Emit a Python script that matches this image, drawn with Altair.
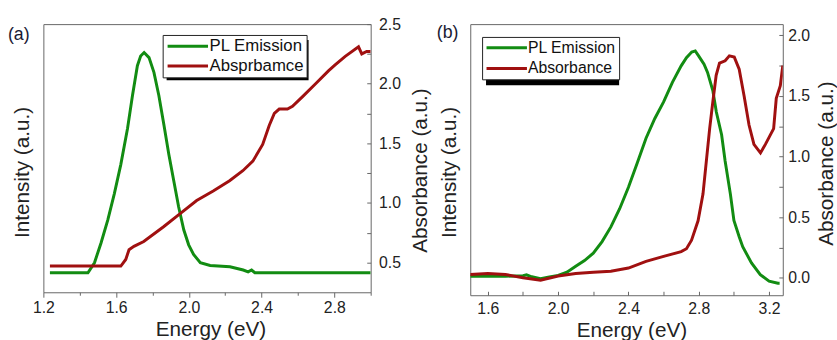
import altair as alt
import pandas as pd

FONT = "Liberation Sans"
GREEN = "#128c12"
RED = "#a01010"
TXT = "#222222"
FRAME = "#666666"

# ---------------- Panel (a) data ----------------
a_pl_E = [1.236, 1.445, 1.481, 1.517, 1.554, 1.590, 1.626, 1.663, 1.690, 1.717, 1.735, 1.754,
          1.781, 1.808, 1.835, 1.863, 1.890, 1.917, 1.944, 1.972, 1.999, 2.026, 2.063, 2.117,
          2.226, 2.299, 2.326, 2.345, 2.363, 3.0]
a_pl_I = [0.073, 0.073, 0.11, 0.184, 0.269, 0.367, 0.477, 0.612, 0.734, 0.845, 0.881, 0.894,
          0.875, 0.82, 0.734, 0.624, 0.514, 0.416, 0.318, 0.233, 0.177, 0.141, 0.11, 0.10,
          0.095, 0.083, 0.076, 0.083, 0.073, 0.073]
a_abs_E = [1.236, 1.626, 1.653, 1.671, 1.698, 1.752, 1.861, 1.952, 2.043, 2.134, 2.224, 2.297,
           2.352, 2.406, 2.442, 2.470, 2.497, 2.542, 2.570, 2.624, 2.697, 2.769, 2.806, 2.860,
           2.933, 2.951, 2.978, 3.0]
a_abs_A = [0.47, 0.47, 0.525, 0.607, 0.635, 0.676, 0.80, 0.91, 1.02, 1.10, 1.186, 1.27,
           1.35, 1.49, 1.65, 1.75, 1.787, 1.787, 1.81, 1.89, 2.0, 2.11, 2.16, 2.23,
           2.31, 2.25, 2.27, 2.27]
a_names = ["PL Emission", "Absprbamce"]
a_xticks = [1.2, 1.4, 1.6, 1.8, 2.0, 2.2, 2.4, 2.6, 2.8, 3.0]
a_yticks = [0.5, 0.75, 1.0, 1.25, 1.5, 1.75, 2.0, 2.25, 2.5]

# ---------------- Panel (b) data ----------------
b_pl_E = [1.5, 1.6, 1.7, 1.8, 1.82, 1.85, 1.9, 1.95, 2.0, 2.05, 2.1, 2.15, 2.2, 2.25, 2.3, 2.35,
          2.4, 2.45, 2.5, 2.55, 2.6, 2.65, 2.7, 2.73, 2.76, 2.78, 2.8, 2.83, 2.85, 2.88, 2.9,
          2.93, 2.95, 2.98, 3.0, 3.03, 3.05, 3.1, 3.15, 3.2, 3.25, 3.26]
b_pl_I = [0.070, 0.070, 0.070, 0.072, 0.075, 0.068, 0.061, 0.067, 0.073, 0.085, 0.107, 0.128,
          0.155, 0.198, 0.252, 0.319, 0.398, 0.488, 0.579, 0.652, 0.713, 0.785, 0.846, 0.876,
          0.897, 0.901, 0.882, 0.852, 0.822, 0.755, 0.676, 0.592, 0.495, 0.373, 0.276, 0.216,
          0.179, 0.119, 0.076, 0.052, 0.044, 0.044]
b_abs_E = [1.5, 1.6, 1.7, 1.8, 1.9, 2.0, 2.1, 2.2, 2.3, 2.4, 2.5, 2.6, 2.7, 2.73, 2.759, 2.796,
           2.824, 2.843, 2.862, 2.880, 2.899, 2.918, 2.95, 2.974, 3.002, 3.03, 3.058, 3.086,
           3.114, 3.151, 3.179, 3.226, 3.241, 3.264, 3.278]
b_abs_A = [0.027, 0.035, 0.027, 0.0, -0.02, 0.014, 0.035, 0.046, 0.054, 0.08, 0.135, 0.176,
           0.216, 0.24, 0.31, 0.47, 0.69, 0.96, 1.23, 1.45, 1.67, 1.77, 1.79, 1.83, 1.82, 1.72,
           1.50, 1.26, 1.10, 1.03, 1.10, 1.23, 1.48, 1.585, 1.75]
b_names = ["PL Emission", "Absorbance"]
b_xticks = [1.6, 1.8, 2.0, 2.2, 2.4, 2.6, 2.8, 3.0, 3.2]
b_yticks = [0.0, 0.25, 0.5, 0.75, 1.0, 1.25, 1.5, 1.75, 2.0]

MAJOR_X = "round(datum.value*10) % 4 == 0"
MAJOR_Y = "round(datum.value*100) % 50 == 0"


def panel(tag, pl_E, pl_I, abs_E, abs_A, names, xdom, xticks, ydom, yticks, w, h,
          x_inward, leg, shadow, tag_pos, lab_size, row_pad, sym_off, lab_off,
          ytitle_left, ytitle_right, xtitle_x, r_labpad, r_titlepad):
    pl_df = pd.DataFrame({"E": pl_E, "I": pl_I, "series": names[0]})
    ab_df = pd.DataFrame({"E": abs_E, "A": abs_A, "series": names[1]})

    if x_inward:
        xaxis = alt.Axis(values=xticks, labelExpr=f"{MAJOR_X} ? format(datum.value, '.1f') : ''",
                         tickSize=4, offset=-4, domain=False, grid=False, tickColor=FRAME,
                         labelFlush=False, labelPadding=6, title="Energy (eV)", titlePadding=3,
                         titleX=xtitle_x)
    else:
        xaxis = alt.Axis(values=xticks, labelExpr=f"{MAJOR_X} ? format(datum.value, '.1f') : ''",
                         tickSize={"condition": {"test": MAJOR_X, "value": 5}, "value": 3},
                         domain=False, grid=False, tickColor=FRAME, labelFlush=False,
                         labelPadding=3, title="Energy (eV)", titlePadding=3, titleX=xtitle_x)

    xenc = alt.X("E:Q", scale=alt.Scale(domain=xdom, nice=False, zero=False), axis=xaxis)
    color = alt.Color("series:N", scale=alt.Scale(domain=names, range=[GREEN, RED]),
                      legend=alt.Legend(title=None, orient="none", legendX=leg[0], legendY=leg[1],
                                        strokeColor="#222222", fillColor="white", padding=3,
                                        rowPadding=row_pad, symbolType="M-6.6,0H1.6", symbolSize=100,
                                        symbolStrokeWidth=3, symbolOffset=sym_off, labelOffset=lab_off,
                                        labelFontSize=lab_size, labelFont=FONT, labelColor="#111111"))

    pl = alt.Chart(pl_df).mark_line(strokeWidth=3, clip=True).encode(
        x=xenc,
        y=alt.Y("I:Q", scale=alt.Scale(domain=[0, 1], nice=False, zero=False),
                axis=alt.Axis(title="Intensity (a.u.)", labels=False, ticks=False, domain=False,
                              grid=False, titlePadding=11, titleY=ytitle_left)),
        color=color,
    )
    ab = alt.Chart(ab_df).mark_line(strokeWidth=3, clip=True).encode(
        x=xenc,
        y=alt.Y("A:Q", scale=alt.Scale(domain=ydom, nice=False, zero=False),
                axis=alt.Axis(orient="right", values=yticks,
                              labelExpr=f"{MAJOR_Y} ? format(datum.value, '.1f') : ''",
                              tickSize=4, offset=-4, domain=False, grid=False, tickColor=FRAME,
                              labelFlush=False, labelPadding=r_labpad, title="Absorbance (a.u.)",
                              titleAngle=270, titleBaseline="top", titlePadding=r_titlepad,
                              titleY=ytitle_right)),
        color=color,
    )
    one = pd.DataFrame({"k": [0]})
    sh = alt.Chart(one).mark_rect(color="black").encode(
        x=alt.value(shadow[0]), x2=alt.value(shadow[1]),
        y=alt.value(shadow[2]), y2=alt.value(shadow[3]))
    txt = alt.Chart(one).mark_text(text=tag, fontSize=18, font=FONT, color="#1a1a33",
                                   align="center", baseline="middle").encode(
        x=alt.value(tag_pos[0]), y=alt.value(tag_pos[1]))

    return alt.layer(pl, ab, sh, txt).resolve_scale(y="independent").properties(width=w, height=h)


pa = panel("(a)", a_pl_E, a_pl_I, a_abs_E, a_abs_A, a_names, [1.2, 3.0], a_xticks, [0.25, 2.5],
           a_yticks, 332, 272, False, (121, 11), (125, 269, 16, 57), (-25, 11), 17, 2, 26.5, 1,
           150, 148, 169.5, 8, 9)
pb = panel("(b)", b_pl_E, b_pl_I, b_abs_E, b_abs_A, b_names, [1.5, 3.278], b_xticks, [-0.144, 2.092],
           b_yticks, 317, 275, True, (12, 13), (16, 151, 19, 62), (-23, 9), 16, 5, 26.5, 1,
           150, 141, 163.5, 5, 6)

chart = alt.hconcat(pa, pb, spacing=5).resolve_scale(color="independent").resolve_legend(
    color="independent"
).properties(
    padding={"left": 7, "top": 13, "right": 0, "bottom": 0}
).configure(
    font=FONT, background="white"
).configure_view(
    stroke=FRAME, strokeWidth=1
).configure_axis(
    labelFont=FONT, titleFont=FONT, labelFontSize=16, titleFontSize=21, labelColor=TXT,
    titleColor=TXT, titleFontWeight="normal"
)

chart.save("out.html", embed_options={"renderer": "svg", "actions": False})
